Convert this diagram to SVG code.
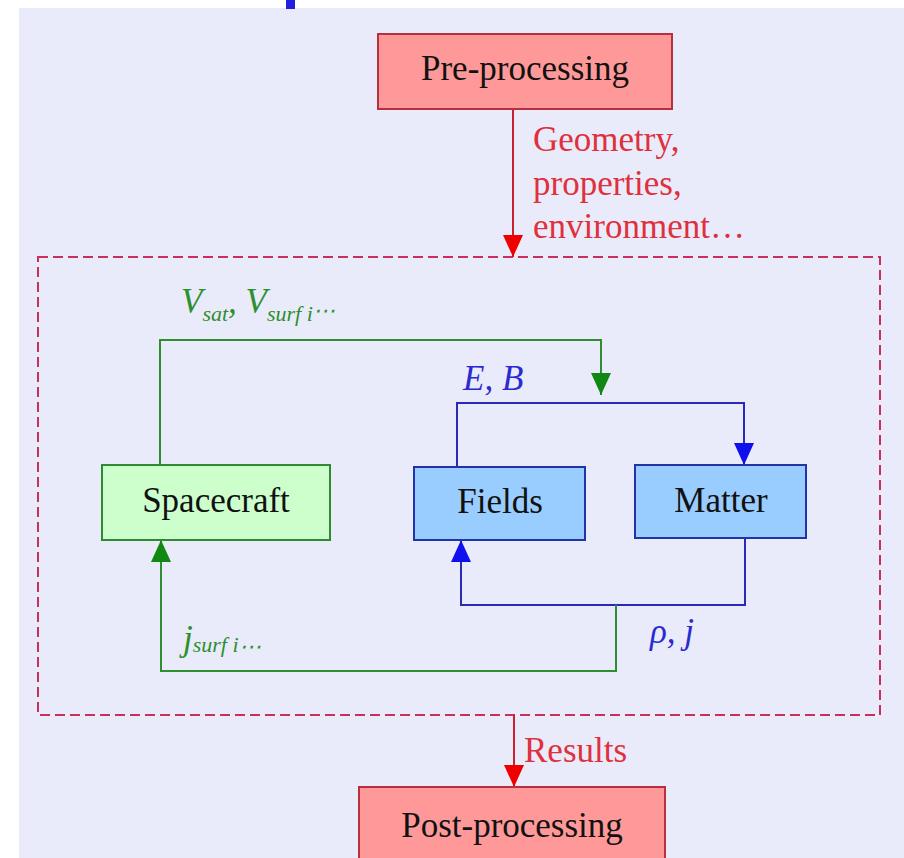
<svg xmlns="http://www.w3.org/2000/svg" width="904" height="858" viewBox="0 0 904 858">
<defs>
<style>
.t{font-family:"Liberation Serif","Times New Roman",serif;font-size:35px;fill:#111}
.lbl{font-family:"Liberation Serif","Times New Roman",serif;font-size:35px}
.red{fill:#e0303c}
.grn{fill:#2e8f2e}
.blu{fill:#2a2ad0}
.it{font-style:italic}
.sub{font-size:22px}
.cr{stroke:#cc2030;stroke-width:2;fill:none}
.cg{stroke:#2e8f2e;stroke-width:2;fill:none}
.cb{stroke:#2a2ab8;stroke-width:2;fill:none}
</style>
<marker id="ar" viewBox="0 0 22 20" refX="22" refY="10" markerWidth="22" markerHeight="20" markerUnits="userSpaceOnUse" orient="auto"><path d="M0,0 L22,10 L0,20 Z" fill="#ee0000"/></marker>
<marker id="ag" viewBox="0 0 22 20" refX="22" refY="10" markerWidth="22" markerHeight="20" markerUnits="userSpaceOnUse" orient="auto"><path d="M0,0 L22,10 L0,20 Z" fill="#118811"/></marker>
<marker id="ab" viewBox="0 0 22 20" refX="22" refY="10" markerWidth="22" markerHeight="20" markerUnits="userSpaceOnUse" orient="auto"><path d="M0,0 L22,10 L0,20 Z" fill="#1010ee"/></marker>
</defs>
<rect x="0" y="0" width="904" height="858" fill="#ffffff"/>
<rect x="19" y="8" width="885" height="850" fill="#e9ebfa"/>
<rect x="286" y="0" width="9" height="9" fill="#2020e0"/>
<rect x="38" y="257" width="842" height="458" fill="none" stroke="#c8305a" stroke-width="2" stroke-dasharray="10,5"/>

<g id="connectors">
<line class="cr" x1="513" y1="109" x2="513" y2="257" marker-end="url(#ar)"/>
<line class="cr" x1="514" y1="715" x2="514" y2="787" marker-end="url(#ar)"/>
<polyline class="cg" points="160,465 160,340 601,340 601,395" marker-end="url(#ag)"/>
<polyline class="cb" points="457,467 457,403 744,403 744,465" marker-end="url(#ab)"/>
<polyline class="cb" points="745,538 745,605 461,605 461,540" marker-end="url(#ab)"/>
<polyline class="cg" points="616,605 616,671 161,671 161,540" marker-end="url(#ag)"/>
<text class="lbl red" x="533" y="151">Geometry,</text>
<text class="lbl red" x="533" y="195">properties,</text>
<text class="lbl red" x="533" y="238">environment…</text>
<text class="lbl red" x="524" y="762">Results</text>
<text class="lbl grn it" x="181" y="313">V<tspan class="sub" dy="8">sat</tspan><tspan dy="-8">, V</tspan><tspan class="sub" dy="8">surf i</tspan><tspan class="sub" dy="-3">⋯</tspan></text>
<text class="lbl blu it" x="463" y="390">E, B</text>
<text class="lbl blu it" x="650" y="643">ρ, j</text>
<text class="lbl grn it" x="183" y="650">j<tspan class="sub" dy="2">surf i</tspan><tspan class="sub" dy="2">⋯</tspan></text>
</g>

<g id="pre">
<rect x="378" y="34" width="294" height="75" fill="#ff9999" stroke="#b83040" stroke-width="2"/>
<text class="t" x="525" y="80" text-anchor="middle">Pre-processing</text>
</g>
<g id="spacecraft">
<rect x="102" y="465" width="228" height="75" fill="#ccffcc" stroke="#2e8a2e" stroke-width="2"/>
<text class="t" x="216" y="512" text-anchor="middle">Spacecraft</text>
</g>
<g id="fields">
<rect x="414" y="467" width="171" height="73" fill="#99ccff" stroke="#2233aa" stroke-width="2"/>
<text class="t" x="500" y="513" text-anchor="middle">Fields</text>
</g>
<g id="matter">
<rect x="635" y="465" width="171" height="73" fill="#99ccff" stroke="#2233aa" stroke-width="2"/>
<text class="t" x="721" y="512" text-anchor="middle">Matter</text>
</g>
<g id="post">
<rect x="359" y="787" width="306" height="80" fill="#ff9999" stroke="#b83040" stroke-width="2"/>
<text class="t" x="512" y="837" text-anchor="middle">Post-processing</text>
</g>
</svg>
